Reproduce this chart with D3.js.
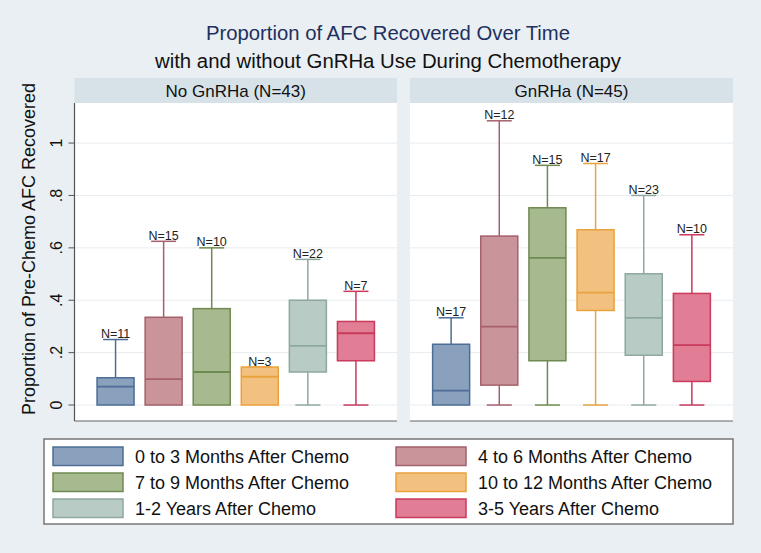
<!DOCTYPE html>
<html><head><meta charset="utf-8">
<script src="https://cdn.jsdelivr.net/npm/d3@7"></script>
<style>body{margin:0;background:#e9eff2;}svg{display:block;}</style>
</head><body>
<script>
// ---- data ----
const categories = ["0 to 3 Months After Chemo","4 to 6 Months After Chemo","7 to 9 Months After Chemo","10 to 12 Months After Chemo","1-2 Years After Chemo","3-5 Years After Chemo"];
const panels = ["No GnRHa (N=43)","GnRHa (N=45)"];
// per panel, per category: [lowerWhisker, q1, median, q3, upperWhisker]
const noGnRHaStats = [
  [0, 0, 0.070, 0.104, 0.250],
  [0, 0, 0.099, 0.335, 0.625],
  [0, 0, 0.126, 0.368, 0.600],
  [0, 0, 0.108, 0.145, 0.145],
  [0, 0.126, 0.226, 0.400, 0.556],
  [0, 0.169, 0.274, 0.319, 0.434]
];
const gnRHaStats = [
  [0, 0, 0.055, 0.232, 0.333],
  [0, 0.076, 0.299, 0.645, 1.085],
  [0, 0.169, 0.562, 0.753, 0.915],
  [0, 0.361, 0.429, 0.669, 0.922],
  [0, 0.190, 0.333, 0.501, 0.800],
  [0, 0.090, 0.229, 0.426, 0.650]
];
const noGnRHaN = [11, 15, 10, 3, 22, 7];
const gnRHaN = [17, 12, 15, 17, 23, 10];
const yTicks = [0, 0.2, 0.4, 0.6, 0.8, 1];
const yTickLabels = ["0", ".2", ".4", ".6", ".8", "1"];
const fills = ["#8aa1bd","#c9949a","#a7b98e","#f3c17f","#b9cbc5","#e17e95"];
const strokes = ["#4c6d95","#a5606b","#6f8a50","#e9a23d","#8ea89f","#c93a5c"];

const W = 761, H = 553;
const svg = d3.select("body").append("svg").attr("width", W).attr("height", H);
svg.append("rect").attr("width", W).attr("height", H).attr("fill", "#e9eff2");

const font = "'Liberation Sans', Arial, Helvetica, sans-serif";

// titles
svg.append("text").attr("x", 388).attr("y", 40).attr("text-anchor", "middle")
  .attr("font-family", font).attr("font-size", 19.5).attr("fill", "#1f2f5e")
  .attr("textLength", 364).attr("lengthAdjust", "spacingAndGlyphs")
  .text("Proportion of AFC Recovered Over Time");
svg.append("text").attr("x", 388).attr("y", 67.5).attr("text-anchor", "middle")
  .attr("font-family", font).attr("font-size", 19.5).attr("fill", "#111")
  .attr("textLength", 466).attr("lengthAdjust", "spacingAndGlyphs")
  .text("with and without GnRHa Use During Chemotherapy");

const y = d3.scaleLinear().domain([-0.061, 1.153]).range([421, 103]);
const panelX = [[74.5, 397], [410, 733]];
const allStats = [noGnRHaStats, gnRHaStats];
const allN = [noGnRHaN, gnRHaN];

panels.forEach((p, pi) => {
  const [x0, x1] = panelX[pi];
  const g = svg.append("g");
  // strip
  g.append("rect").attr("x", x0).attr("y", 78).attr("width", x1 - x0).attr("height", 25).attr("fill", "#d6e1e8");
  g.append("text").attr("x", (x0 + x1) / 2).attr("y", 97).attr("text-anchor", "middle")
    .attr("font-family", font).attr("font-size", 17).attr("fill", "#111").text(p);
  // plot area
  g.append("rect").attr("x", x0).attr("y", 103).attr("width", x1 - x0).attr("height", 318).attr("fill", "#fff");
  // gridlines
  g.selectAll("line.grid").data(yTicks).join("line")
    .attr("x1", x0).attr("x2", x1).attr("y1", d => y(d)).attr("y2", d => y(d))
    .attr("stroke", "#e8ecee").attr("stroke-width", 1);
  // bottom line
  g.append("line").attr("x1", x0).attr("x2", x1).attr("y1", 421).attr("y2", 421).attr("stroke", "#666").attr("stroke-width", 1.2);

  const x = d3.scalePoint().domain(categories).range([x0, x1]).padding(0.854);
  const bw = 37, cw = 25;
  const stats = allStats[pi], ns = allN[pi];
  categories.forEach((c, ci) => {
    const [lw, q1, med, q3, uw] = stats[ci];
    const cx = x(c);
    const bg = g.append("g");
    const st = strokes[ci];
    // whiskers
    if (uw > q3) {
      bg.append("line").attr("x1", cx).attr("x2", cx).attr("y1", y(q3)).attr("y2", y(uw)).attr("stroke", st).attr("stroke-width", 1.5);
    }
    bg.append("line").attr("x1", cx - cw / 2).attr("x2", cx + cw / 2).attr("y1", y(uw)).attr("y2", y(uw)).attr("stroke", st).attr("stroke-width", 1.5);
    if (q1 > lw) {
      bg.append("line").attr("x1", cx).attr("x2", cx).attr("y1", y(q1)).attr("y2", y(lw)).attr("stroke", st).attr("stroke-width", 1.5);
      bg.append("line").attr("x1", cx - cw / 2).attr("x2", cx + cw / 2).attr("y1", y(lw)).attr("y2", y(lw)).attr("stroke", st).attr("stroke-width", 1.5);
    }
    bg.append("rect").attr("x", cx - bw / 2).attr("y", y(q3)).attr("width", bw).attr("height", y(q1) - y(q3))
      .attr("fill", fills[ci]).attr("stroke", st).attr("stroke-width", 1.5);
    bg.append("line").attr("x1", cx - bw / 2).attr("x2", cx + bw / 2).attr("y1", y(med)).attr("y2", y(med)).attr("stroke", st).attr("stroke-width", 1.8);
    bg.append("text").attr("x", cx).attr("y", y(uw) - 1.5).attr("text-anchor", "middle")
      .attr("font-family", font).attr("font-size", 12.5).attr("fill", "#222")
      .text("N=" + ns[ci]);
  });

  if (pi === 0) {
    g.append("line").attr("x1", x0).attr("x2", x0).attr("y1", 103).attr("y2", 421).attr("stroke", "#555").attr("stroke-width", 1.2);
    g.selectAll("line.tick").data(yTicks).join("line")
      .attr("x1", x0 - 6).attr("x2", x0).attr("y1", d => y(d)).attr("y2", d => y(d)).attr("stroke", "#555").attr("stroke-width", 1);
    g.selectAll("text.tick").data(yTicks).join("text")
      .attr("transform", (d) => `translate(62,${y(d)}) rotate(-90)`)
      .attr("text-anchor", "middle").attr("font-family", font).attr("font-size", 16).attr("fill", "#111")
      .text((d, i) => yTickLabels[i]);
  }
});

// y title
svg.append("text").attr("transform", "translate(35,249) rotate(-90)").attr("text-anchor", "middle")
  .attr("font-family", font).attr("font-size", 18).attr("fill", "#111")
  .text("Proportion of Pre-Chemo AFC Recovered");

// legend
const lg = svg.append("g");
lg.append("rect").attr("x", 44).attr("y", 439).attr("width", 689).attr("height", 85)
  .attr("fill", "#fff").attr("stroke", "#777").attr("stroke-width", 1.5);
categories.forEach((c, i) => {
  const col = i % 2, row = Math.floor(i / 2);
  const sx = col === 0 ? 53 : 396;
  const sy = 447 + row * 26;
  lg.append("rect").attr("x", sx).attr("y", sy).attr("width", 70).attr("height", 18.5)
    .attr("fill", fills[i]).attr("stroke", strokes[i]).attr("stroke-width", 1.5);
  lg.append("text").attr("x", sx + 82).attr("y", sy + 15.5).attr("font-family", font).attr("font-size", 18).attr("fill", "#111").text(c);
});
</script>
</body></html>
